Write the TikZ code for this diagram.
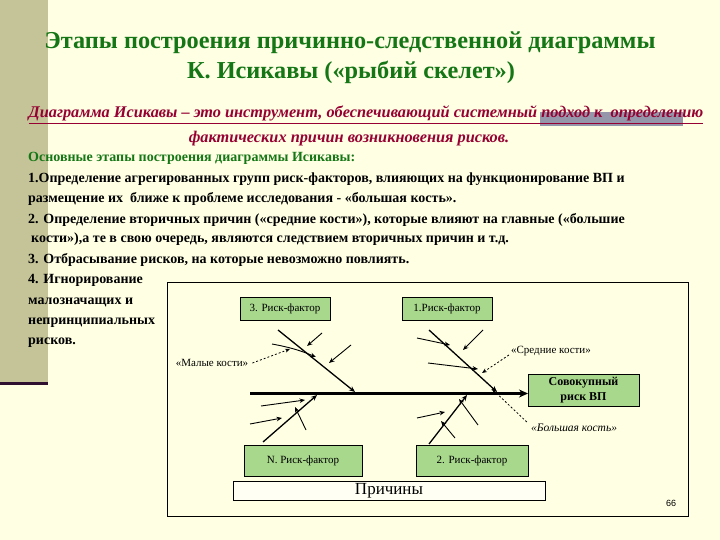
\documentclass[tikz,border=0pt]{standalone}
\usepackage{fontspec}
\setmainfont{Liberation Serif}
\newfontfamily\arialfont{Liberation Sans}
\usetikzlibrary{arrows.meta}
\definecolor{pageCream}{RGB}{255,255,228}
\definecolor{bandOlive}{RGB}{196,196,152}
\definecolor{bandPlum}{RGB}{48,16,48}
\definecolor{titleGreen}{RGB}{20,118,20}
\definecolor{subRed}{RGB}{150,0,50}
\definecolor{boxGreen}{RGB}{168,216,140}
\definecolor{markGrey}{RGB}{150,150,170}
\newcommand{\stageText}[1]{\fontsize{14}{16}\selectfont\bfseries #1}

\begin{document}
\begin{tikzpicture}[x=1pt,y=-1pt,
  line/.style={anchor=base west, inner sep=0pt},
  riskbox/.style={draw, fill=boxGreen, inner sep=0pt, minimum width=90pt, minimum height=23pt, font=\fontsize{11}{13}\selectfont},
  bigbone/.style={line width=1.3pt, -{Stealth[length=6pt,width=5pt]}},
  smallbone/.style={line width=0.9pt, -{Stealth[length=5.5pt,width=4.5pt]}},
  pointer/.style={line width=0.8pt, dash pattern=on 2pt off 2pt, -{Stealth[length=5pt,width=4pt]}}]
\useasboundingbox (0,0) rectangle (720,540);
\fill[pageCream] (0,0) rectangle (720,540);
\fill[bandOlive] (0,0) rectangle (48,382);
\fill[bandPlum] (0,382) rectangle (48,385);
\fill[markGrey] (540,112) rectangle (683,126);

\node[anchor=base, inner sep=0pt, text=titleGreen, font=\fontsize{24.3}{28}\selectfont\bfseries] (title1) at (350,49) {Этапы построения причинно-следственной диаграммы};
\node[anchor=base, inner sep=0pt, text=titleGreen, font=\fontsize{24.3}{28}\selectfont\bfseries] (title2) at (351,79) {К. Исикавы («рыбий скелет»)};
\node[anchor=base, inner sep=0pt, text=subRed, font=\fontsize{16.3}{18}\selectfont\bfseries\itshape] (sub1) at (366,118) {\underline{Диаграмма Исикавы – это инструмент, обеспечивающий системный подход к \ определению}};
\node[anchor=base, inner sep=0pt, text=subRed, font=\fontsize{16.3}{18}\selectfont\bfseries\itshape] (sub2) at (349,143) {фактических причин возникновения рисков.};

\node[line, text=titleGreen] (head) at (28,162) {\stageText{Основные этапы построения диаграммы Исикавы:}};
\node[line] (s1a) at (28,183) {\stageText{1.Определение агрегированных групп риск-факторов, влияющих на функционирование ВП и}};
\node[line] (s1b) at (28,203) {\stageText{размещение их \ ближе к проблеме исследования - «большая кость».}};
\node[line] (s2a) at (28,223) {\stageText{2. Определение вторичных причин («средние кости»), которые влияют на главные («большие}};
\node[line] (s2b) at (31,243) {\stageText{кости»),а те в свою очередь, являются следствием вторичных причин и т.д.}};
\node[line] (s3) at (28,263) {\stageText{3. Отбрасывание рисков, на которые невозможно повлиять.}};
\node[line] (s4a) at (28,283) {\stageText{4. Игнорирование}};
\node[line] (s4b) at (28,304) {\stageText{малозначащих и}};
\node[line] (s4c) at (28,324) {\stageText{непринципиальных}};
\node[line] (s4d) at (28,344) {\stageText{рисков.}};

\draw[line width=0.9pt] (167,282) rectangle (688,516);

\node[riskbox] (rf3) at (285,308.5) {3. Риск-фактор};
\node[riskbox] (rf1) at (447,308.5) {1.Риск-фактор};
\node[riskbox, minimum width=118pt, minimum height=31pt] (rfN) at (303,460.5) {N. Риск-фактор};
\node[riskbox, minimum width=112pt, minimum height=31pt] (rf2) at (472,460.5) {2. Риск-фактор};
\node[riskbox, minimum width=111pt, minimum height=32pt, align=center, font=\fontsize{12}{15}\selectfont\bfseries] (total) at (583.5,390) {Совокупный\\риск ВП};
\node[draw, fill=white!60!pageCream, inner sep=0pt, minimum width=312pt, minimum height=19pt, font=\fontsize{17}{18}\selectfont] (causes) at (389,490.5) {Причины};
\node[anchor=base, inner sep=0pt, font=\arialfont\fontsize{9}{10}\selectfont] (page) at (671,506) {66};

\node[inner sep=0pt, font=\fontsize{11}{12}\selectfont] (small) at (212,363) {«Малые кости»};
\node[inner sep=0pt, font=\fontsize{11}{12}\selectfont] (middle) at (551,351) {«Средние кости»};
\node[inner sep=0pt, font=\fontsize{11.5}{12}\selectfont\itshape] (big) at (574,428) {«Большая кость»};

\coordinate (tail) at (250,393.5);
\coordinate (spineEnd) at (528,393.5);
\draw[line width=3.5pt, -{Stealth[length=9pt,width=8pt]}] (tail) -- (spineEnd);

\coordinate (b3top) at (278,330);
\coordinate (b3end) at (355,392);
\coordinate (b1top) at (429,330);
\coordinate (b1end) at (497,392);
\coordinate (bNfoot) at (263,442);
\coordinate (bNend) at (317,395);
\coordinate (b2foot) at (429,444);
\coordinate (b2end) at (467,395);
\draw[bigbone] (b3top) -- (b3end);
\draw[bigbone] (b1top) -- (b1end);
\draw[bigbone] (bNfoot) -- (bNend);
\draw[bigbone] (b2foot) -- (b2end);

\draw[smallbone] (322,333) -- (307,346);
\draw[smallbone] (272,344) to[bend left=6] (316,357);
\draw[smallbone] (351,345) -- (329,363);
\draw[smallbone] (417,338) -- (450,345);
\draw[smallbone] (483,330) -- (463,350);
\draw[smallbone] (428,363) -- (478,369);
\draw[smallbone] (261,406) -- (305,400);
\draw[smallbone] (250,424) -- (282,418);
\draw[smallbone] (306,430) -- (295,407);
\draw[smallbone] (417,418) -- (445,412);
\draw[smallbone] (478,425) -- (459,399);
\draw[smallbone] (455,438) -- (441,421);

\coordinate (smallTip) at (290,349);
\coordinate (middleTip) at (482,373);
\coordinate (bigTip) at (492,389);
\draw[pointer] (small.east) ++(4,0) -- (smallTip);
\draw[pointer] (middle.west) ++(-2,4) -- (middleTip);
\draw[pointer] (big.north west) ++(-4,-2) -- (bigTip);
\end{tikzpicture}
\end{document}
